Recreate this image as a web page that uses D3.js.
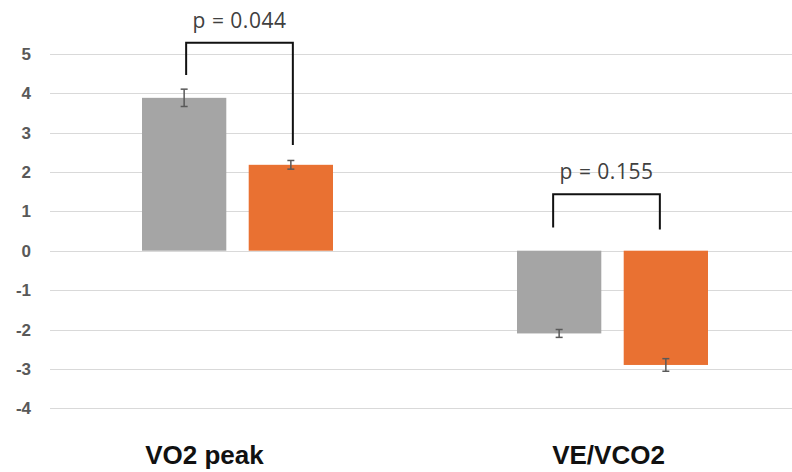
<!doctype html>
<html lang="en">
<head>
    <meta charset="UTF-8">
    <title>d3</title>
    <script src="https://d3js.org/d3.v7.min.js"></script>
    <style>
        body { margin: 0; background: #fff; }
        .grid line { stroke: #d9d9d9; stroke-width: 1px; }
        .tick-label { fill: #595959; font: bold 17px "Liberation Sans", Arial, sans-serif; }
        .cat-label { fill: #111; font: bold 26px "Liberation Sans", Arial, sans-serif; }
        .p-label { fill: #404040; font: 21px "Open Sans", "Liberation Sans", sans-serif; }
        .bracket { fill: none; stroke: #111; stroke-width: 2px; }
        .err { stroke: #595959; stroke-width: 1.5px; }
    </style>
</head>
<body>
<div class="canvas"></div>
</body>

<script>
  // data
  const categories = ['VO2 peak', 'VE/VCO2'];
  const series = ['A', 'B'];
  const colors = ['#a5a5a5', '#e97132'];
  const valuesA = [3.88, -2.1];
  const valuesB = [2.18, -2.9];
  const errorsA = [0.22, 0.1];
  const errorsB = [0.11, 0.16];
  const yTicks = [5, 4, 3, 2, 1, 0, -1, -2, -3, -4];
  // p-value brackets: left leg bottom, top, right leg bottom (in y units)
  const pLabels = ['p = 0.044', 'p = 0.155'];
  const bracketLeft = [4.46, 0.59];
  const bracketTop = [5.28, 1.43];
  const bracketRight = [2.68, 0.54];

  const width = 792, height = 472;

  const svg = d3.select('.canvas')
    .append('svg')
    .attr('width', width)
    .attr('height', height)

  const y = d3.scaleLinear().domain([-4, 5]).range([408.3, 53.7]);
  const x0 = d3.scaleBand().domain(categories).range([50, 800]);
  const groupW = 191;
  const x1 = d3.scaleBand().domain(series)
    .range([x0.bandwidth() / 2 - groupW / 2, x0.bandwidth() / 2 + groupW / 2])
    .paddingInner(0.21);

  // gridlines
  svg.append('g').attr('class', 'grid')
    .selectAll('line')
    .data(yTicks)
    .join('line')
    .attr('x1', 50).attr('x2', width)
    .attr('y1', d => Math.round(y(d)) + 0.5)
    .attr('y2', d => Math.round(y(d)) + 0.5)

  svg.append('g')
    .selectAll('text')
    .data(yTicks)
    .join('text')
    .attr('class', 'tick-label')
    .attr('x', 31)
    .attr('y', d => y(d))
    .attr('dy', '0.36em')
    .attr('text-anchor', 'end')
    .text(d => d)

  const rows = categories.map((c, i) => ({
    cat: c,
    bars: [
      { s: 'A', v: valuesA[i], e: errorsA[i], color: colors[0] },
      { s: 'B', v: valuesB[i], e: errorsB[i], color: colors[1] }
    ]
  }));

  const groups = svg.append('g')
    .selectAll('g')
    .data(rows)
    .join('g')
    .attr('transform', d => `translate(${x0(d.cat)},0)`)

  groups.selectAll('rect')
    .data(d => d.bars)
    .join('rect')
    .attr('x', d => x1(d.s))
    .attr('width', x1.bandwidth())
    .attr('y', d => y(Math.max(0, d.v)))
    .attr('height', d => Math.abs(y(d.v) - y(0)))
    .attr('fill', d => d.color)

  // error bars
  const eb = groups.selectAll('g.eb')
    .data(d => d.bars)
    .join('g')
    .attr('class', 'err')
    .attr('transform', d => `translate(${x1(d.s) + x1.bandwidth() / 2},0)`)

  eb.append('line')
    .attr('y1', d => y(d.v + d.e)).attr('y2', d => y(d.v - d.e))
  eb.append('line')
    .attr('x1', -3.5).attr('x2', 3.5)
    .attr('y1', d => y(d.v + d.e)).attr('y2', d => y(d.v + d.e))
  eb.append('line')
    .attr('x1', -3.5).attr('x2', 3.5)
    .attr('y1', d => y(d.v - d.e)).attr('y2', d => y(d.v - d.e))

  // brackets with p values (hand-drawn in the original, so slightly off centre)
  const bracketShift = [2, -6];
  categories.forEach((c, i) => {
    const xl = x0(c) + x1('A') + x1.bandwidth() / 2 + bracketShift[i];
    const xr = x0(c) + x1('B') + x1.bandwidth() / 2 + bracketShift[i];
    svg.append('path')
      .attr('class', 'bracket')
      .attr('d', `M${xl},${y(bracketLeft[i])}V${y(bracketTop[i])}H${xr}V${y(bracketRight[i])}`)
    svg.append('text')
      .attr('class', 'p-label')
      .attr('x', (xl + xr) / 2)
      .attr('y', y(bracketTop[i]) - 15)
      .attr('text-anchor', 'middle')
      .attr('letter-spacing', '0.5px')
      .text(pLabels[i])
  });

  // category labels (first one sits left of its group in the original)
  const labelShift = [-33, -4];
  svg.append('g')
    .selectAll('text')
    .data(categories)
    .join('text')
    .attr('class', 'cat-label')
    .attr('x', (d, i) => x0(d) + x0.bandwidth() / 2 + labelShift[i])
    .attr('y', 464)
    .attr('text-anchor', 'middle')
    .text(d => d)
</script>
</html>
